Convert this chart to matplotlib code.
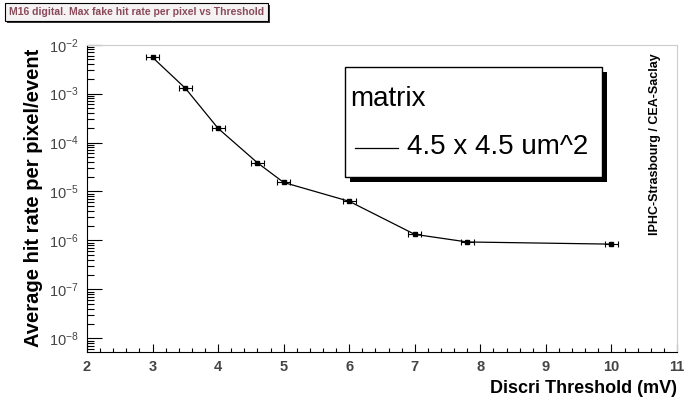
import matplotlib
matplotlib.use('Agg')
import matplotlib.pyplot as plt
from matplotlib.patches import Rectangle
from matplotlib.lines import Line2D
from matplotlib.ticker import MultipleLocator, LogLocator, NullFormatter

plt.rcParams['font.family'] = ['Liberation Sans', 'DejaVu Sans']
plt.rcParams['mathtext.fontset'] = 'custom'
plt.rcParams['mathtext.rm'] = 'Liberation Sans:bold'
plt.rcParams['mathtext.it'] = 'Liberation Sans:bold'
plt.rcParams['mathtext.bf'] = 'Liberation Sans:bold'

threshold = [3.0, 3.5, 4.0, 4.6, 5.0, 6.0, 7.0, 7.8, 10.0]
hit_rate  = [5.5e-3, 1.29e-3, 1.95e-4, 3.86e-5, 1.53e-5, 6.3e-6, 1.33e-6, 9.3e-7, 8.4e-7]
thr_err   = [0.1] * len(threshold)
y_decades = [-8, -7, -6, -5, -4, -3, -2]

W, H = 687, 400
fig = plt.figure(figsize=(6.87, 4.0), dpi=100)
ax = fig.add_axes([87 / W, 1 - 351.7 / H, 590 / W, 307 / H])

ax.errorbar(threshold, hit_rate, xerr=thr_err, fmt='s-', color='black',
            markersize=2.8, lw=0.9, elinewidth=0.8, capsize=2, capthick=0.8)

ax.set_yscale('log')
ax.set_xlim(2, 11)
ax.set_ylim(10 ** -8.274, 1e-2)

ax.xaxis.set_major_locator(MultipleLocator(1))
ax.xaxis.set_minor_locator(MultipleLocator(0.2))
ax.set_yticks([10.0 ** k for k in y_decades])
ax.yaxis.set_minor_locator(LogLocator(base=10, subs=range(2, 10), numticks=20))
ax.yaxis.set_minor_formatter(NullFormatter())

ax.tick_params(axis='both', which='both', direction='in', labelcolor='#444444')
ax.tick_params(axis='x', which='major', length=6, width=0.8, labelsize=10.5, pad=6)
ax.tick_params(axis='x', which='minor', length=3, width=0.8)
ax.tick_params(axis='y', which='major', length=11, width=0.8, labelsize=10.5, pad=6)
ax.tick_params(axis='y', which='minor', length=5, width=0.8)
for lab in ax.get_xticklabels():
    lab.set_fontweight('bold')

for s in ['top', 'right']:
    ax.spines[s].set_color('#cccccc')
for s in ['left', 'bottom']:
    ax.spines[s].set_color('black')

ax.set_xlabel('Discri Threshold (mV)', fontsize=13, fontweight='bold', loc='right')
ax.set_ylabel('Average hit rate per pixel/event', fontsize=14.5, fontweight='bold')

# title box
tx0, ty0, tx1, ty1 = 5, 3, 268, 21
fig.patches.append(Rectangle(((tx0 + 2) / W, 1 - (ty1 + 2) / H), (tx1 - tx0) / W, (ty1 - ty0) / H,
                             transform=fig.transFigure, facecolor='#333333', edgecolor='none'))
fig.patches.append(Rectangle((tx0 / W, 1 - ty1 / H), (tx1 - tx0) / W, (ty1 - ty0) / H,
                             transform=fig.transFigure, facecolor='#f4f2f2', edgecolor='black', lw=0.8))
fig.text((tx0 + tx1) / 2 / W, 1 - (ty0 + ty1) / 2 / H,
         'M16 digital. Max fake hit rate per pixel vs Threshold',
         ha='center', va='center', fontsize=7.5, fontweight='bold', color='#8a4a5a')

# legend box
lx0, ly0, lx1, ly1 = 344.7, 66.7, 601.7, 176.7
fig.patches.append(Rectangle(((lx0 + 5) / W, 1 - (ly1 + 5) / H), (lx1 - lx0) / W, (ly1 - ly0) / H,
                             transform=fig.transFigure, facecolor='black', edgecolor='none'))
fig.patches.append(Rectangle((lx0 / W, 1 - ly1 / H), (lx1 - lx0) / W, (ly1 - ly0) / H,
                             transform=fig.transFigure, facecolor='white', edgecolor='black', lw=1))
fig.text(350 / W, 1 - 99 / H, 'matrix', ha='left', va='center', fontsize=20)
fig.lines.append(Line2D([355 / W, 398 / W], [1 - 148 / H, 1 - 148 / H],
                        transform=fig.transFigure, color='black', lw=0.9))
fig.text(407 / W, 1 - 147 / H, '4.5 x 4.5 um^2', ha='left', va='center', fontsize=20)

fig.text(655 / W, 1 - 144 / H, 'IPHC-Strasbourg / CEA-Saclay', rotation=90,
         ha='center', va='center', fontsize=9, fontweight='bold')

fig.savefig('out.png', dpi=100)
